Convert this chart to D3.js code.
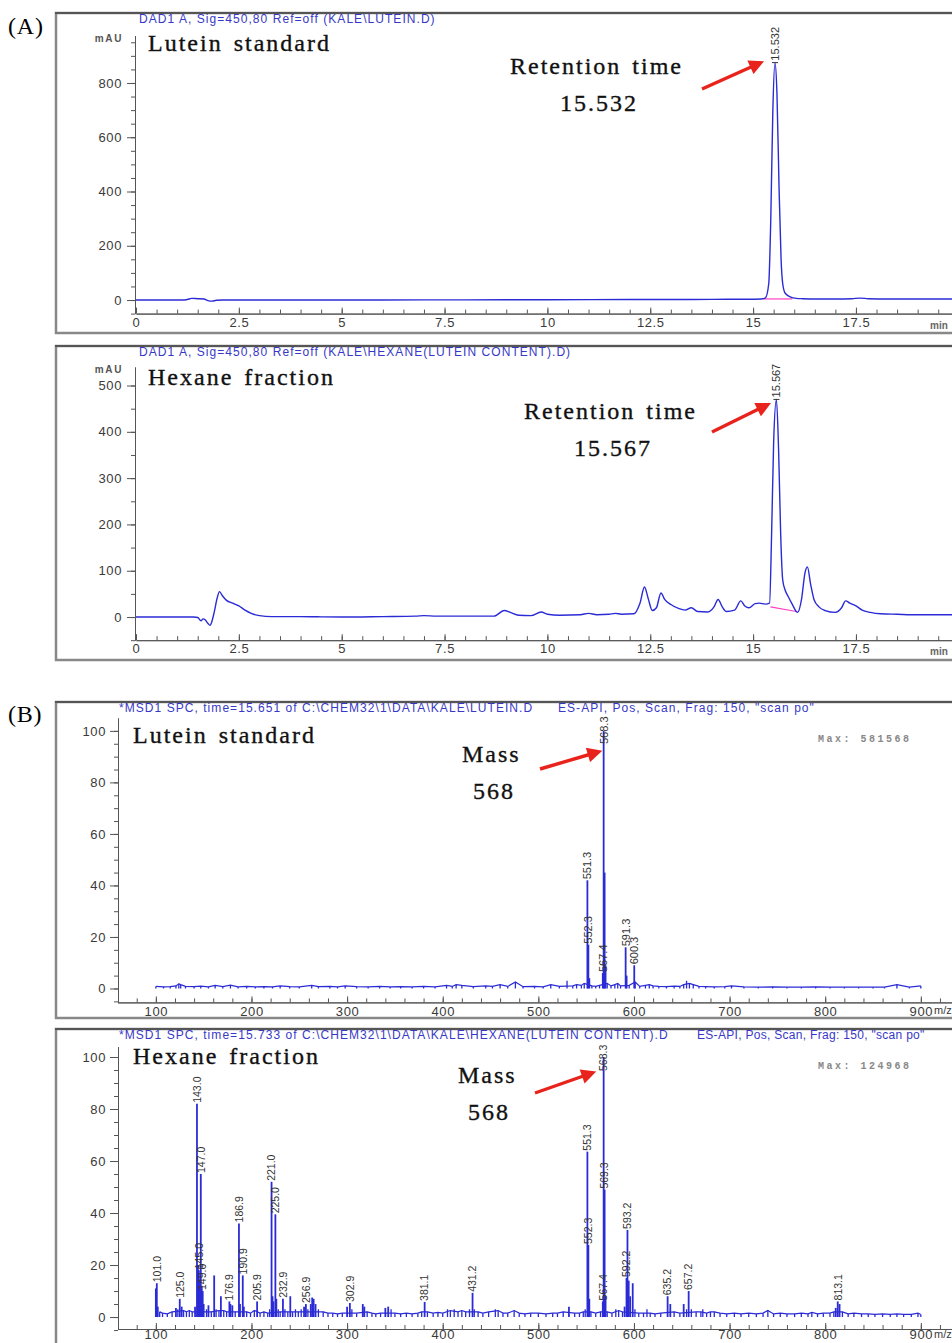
<!DOCTYPE html>
<html>
<head>
<meta charset="utf-8">
<script src="https://cdn.jsdelivr.net/npm/d3@7"></script>
<style>
  body { margin: 0; background: #fff; }
  svg { display: block; font-family: "Liberation Sans", Arial, sans-serif; }
  .tick text { fill: #3a3a3a; font-size: 13px; letter-spacing: 0.6px; }
  .domain, .tick line { stroke: #555; }
</style>
</head>
<body>
<svg id="fig" width="952" height="1343"></svg>
<script>
// ---- data ----
// HPLC traces: [time (min), absorbance (mAU)]
const luteinTrace = [[0,0],[0.6,0],[1.1,0],[1.25,2],[1.35,6],[1.5,5],[1.65,4],[1.75,-2],[1.85,-4],[1.95,-1],[2.1,0],[3,0],[5,0],
  [7,0.5],[9,1],[11,1.5],[13,2],[14,2.5],[14.8,3],[15.2,4],[15.3,8],[15.38,60],[15.43,300],[15.48,700],[15.532,875],
  [15.58,760],[15.63,420],[15.68,150],[15.72,60],[15.78,25],[15.9,12],[16.05,6],[16.2,5],[16.6,4],[17,4],[17.4,5],
  [17.6,7],[17.8,5],[18.3,4],[19,4],[20,4]];
const luteinBase = [[15.25,4],[15.95,4]];

const hexaneTrace = [[0,0],[1.4,0],[1.5,-1],[1.58,-8],[1.63,-4],[1.68,-6],[1.75,-14],[1.8,-18],[1.85,-8],[1.9,10],[1.97,40],
  [2.03,55],[2.1,46],[2.2,36],[2.35,30],[2.5,24],[2.65,15],[2.8,8],[3.0,3],[3.3,1],[3.6,1],[4,1],[4.4,0.5],[5,0],[6,1],
  [6.8,2],[7.0,3],[7.3,2],[8,2],[8.7,2],[8.95,14],[9.1,10],[9.3,4],[9.6,3],[9.85,11],[10.0,6],[10.3,4],[10.8,5],[11.0,8],
  [11.2,5],[11.5,6],[11.65,8],[11.8,6],[12.1,7],[12.25,30],[12.36,65],[12.45,40],[12.55,14],[12.65,20],[12.76,52],
  [12.85,38],[13.0,27],[13.2,18],[13.35,15],[13.5,20],[13.65,12],[13.9,11],[14.05,22],[14.15,38],[14.25,22],[14.35,12],
  [14.55,15],[14.7,35],[14.8,24],[14.9,20],[15.05,29],[15.15,30],[15.3,28],[15.4,30],[15.45,180],[15.5,380],
  [15.567,470],[15.62,360],[15.67,180],[15.72,80],[15.78,58],[15.85,45],[15.95,28],[16.08,10],[16.18,40],[16.26,95],
  [16.32,108],[16.4,70],[16.48,38],[16.6,22],[16.75,14],[17.0,10],[17.15,20],[17.25,35],[17.35,30],[17.5,24],
  [17.65,15],[17.85,10],[18.1,7],[18.5,6],[19,5],[20,5]];
const hexaneBase = [[15.42,22],[16.05,12]];

const luteinRt = 15.532;
const hexaneRt = 15.567;

// mass spectra: [m/z, relative abundance %]
const stdPeaks = [[100,0.8],[108,0.6],[115,0.7],[121,1.0],[124,1.8],[126,1.5],[131,0.8],[140,0.7],[147,0.9],[155,0.6],
  [162,1.2],[170,0.7],[178,1.3],[186,0.6],[195,0.8],[204,0.6],[213,0.7],[222,0.6],[230,1.0],[240,0.7],[250,0.6],
  [263,1.2],[270,0.7],[282,0.8],[290,0.6],[298,1.0],[310,0.7],[322,0.6],[334,0.8],[345,0.6],[356,0.7],[368,0.6],
  [380,0.8],[392,0.6],[404,1.2],[410,0.8],[414,1.5],[420,1.2],[432,0.7],[445,1.0],[452,0.8],[460,1.5],[468,0.8],
  [476,2.5],[484,0.7],[496,0.8],[505,0.6],[513,1.5],[522,0.8],[530,3],[536,1.0],[540,1.5],[545,1.2],[548,2],
  [551.3,42],[552.3,17],[553.3,4],[556,1],[560,0.8],[564,1.2],[567.4,6],[568.3,100],[569.3,45],[570.3,9],[572,2],
  [576,1],[580,1.5],[583,2],[586,1],[591.3,16],[592.3,5],[595,1.2],[600.3,9],[601.3,2.5],[606,0.8],[612,1.2],
  [616,1.5],[620,1.0],[626,0.8],[634,0.7],[642,0.9],[648,0.8],[652,1.5],[655,3],[658,2],[662,1.5],[668,0.8],
  [675,0.7],[684,0.6],[695,0.7],[702,1],[715,0.6],[730,0.5],[745,0.6],[760,0.5],[775,0.5],[790,0.6],[805,0.5],
  [820,0.5],[835,0.5],[850,0.5],[862,0.5],[875,1.5],[888,0.5],[900,1]];
const stdLabels = ["551.3","552.3","567.4","568.3","591.3","600.3"];

const hexPeaks = [[100,11],[101.0,13],[102,4],[104,2],[107,1.5],[112,1.2],[117,2],[121,3.5],[123,3],[125.0,7],[127,4],
  [129,2.5],[132,2],[135,2.5],[138,2],[141,4],[143.0,82],[144,20],[145.0,18],[146,14],[147.0,55],[148,12],[149.0,10],
  [150,5],[153,3],[155,4.5],[158,2],[161,16],[163,3],[166,2.5],[168,8],[171,2.5],[174,2],[176.9,6],[178,5],[180,4.5],
  [183,2],[186.9,36],[188,5],[190.9,16],[192,4],[195,2],[199,1.5],[203,2.5],[205.9,6],[209,1.5],[213,2],[217,1.5],
  [219,3],[221.0,52],[222,8],[223,6],[225.0,39.5],[226,7],[228,3],[230,2],[232.9,7],[235,3],[238,2],[240.6,8],[243,2],
  [246,3],[249,2],[252,3],[255,4],[256.9,5],[259,3],[262,5],[263.5,7.5],[265,7],[267,5],[270,3],[275,2],[280,1.5],
  [285,1.5],[290,1.2],[295,1.5],[300,4],[302.9,5.4],[305,3],[310,1.5],[316.4,5],[318,4],[321,2],[326,1.5],[330,1.2],
  [335,1.5],[340,3.5],[343,4],[346,3],[350,1.5],[356,1.2],[362,1.5],[368,1.2],[374,1.5],[378,2],[381.1,5.8],[384,2],
  [390,1.5],[395,1.8],[400,1.5],[405,3],[408,2.5],[412,3],[416,2],[420,2.5],[424,2],[428,3],[431.2,9.3],[433,3],
  [437,2],[442,1.5],[448,2],[455,3],[458,2.5],[463,1.5],[468,1.5],[474.7,2.5],[480,1.5],[486,1.2],[492,1.5],[500,1.5],
  [508,1.2],[515,1.5],[520,1.5],[526,2],[532,4],[538,1.5],[543,1.5],[547,2],[549,3],[551.3,63.6],[552.3,27.7],
  [553.3,7],[555,2],[560,1.5],[565,2],[567.4,6],[568.3,100],[569.3,49],[570.3,8],[572,2],[577,1.5],[581,3],[584,2.5],
  [588,2],[590.2,4],[592.2,15],[593.2,33.5],[594.5,14],[596,8],[598.7,13],[601,3],[605,1.5],[610,1.5],[613.6,3],
  [617,1.5],[622,1.2],[628,1.5],[635.2,8],[638,5],[642,2],[648,1.5],[652,5],[655,3],[657.2,10],[660,3],[665,2],
  [670,2],[672,3],[676,1.5],[680,2],[684,2],[690,1.5],[697,1.2],[705,1.5],[712,1.2],[720,1.5],[728,1.2],[735,1.5],
  [740,2.5],[746,1.2],[753,1.5],[760,1.2],[768,1.2],[775,1.5],[782,1.2],[786,1.8],[792,1.2],[798,1.5],[805,1.5],
  [809,2],[811,3.5],[813.1,6],[815,5],[818,2],[824,1.2],[830,1.5],[838,1.2],[845,1.2],[852,1],[860,1.2],[868,1],
  [875,1.2],[882,1],[890,1],[897,1.5],[900,1]];
const hexLabels = ["101.0","125.0","143.0","145.0","147.0","149.0","176.9","186.9","190.9","205.9","221.0","225.0",
  "232.9","256.9","302.9","381.1","431.2","551.3","552.3","567.4","568.3","569.3","592.2","593.2","635.2","657.2","813.1"];

// tick labels
const timeTicks = [0, 2.5, 5, 7.5, 10, 12.5, 15, 17.5];
const mauTicksA = [0, 200, 400, 600, 800];
const mauTicksB = [0, 100, 200, 300, 400, 500];
const mzTicks = [100, 200, 300, 400, 500, 600, 700, 800, 900];
const pctTicks = [0, 20, 40, 60, 80, 100];

// ---- drawing ----
const svg = d3.select("#fig");
const blue = "#2b2bd6";
const serif = "'Liberation Serif', 'Times New Roman', serif";

svg.append("defs").append("marker")
  .attr("id", "ah").attr("viewBox", "0 0 10 10").attr("refX", 7).attr("refY", 5)
  .attr("markerWidth", 5).attr("markerHeight", 4.4).attr("markerUnits", "strokeWidth").attr("orient", "auto")
  .append("path").attr("d", "M0,0L10,5L0,10z").attr("fill", "#e8231c");

function frame(top, bottom) {
  svg.append("rect").attr("x", 56).attr("y", top).attr("width", 960).attr("height", bottom - top)
    .attr("fill", "none").attr("stroke", "#888").attr("stroke-width", 2.5);
  svg.append("line").attr("x1", 55).attr("x2", 952).attr("y1", top).attr("y2", top)
    .attr("stroke", "#444").attr("stroke-width", 1.5);
}

function header(x, y, s, ls) {
  svg.append("text").attr("x", x).attr("y", y).attr("fill", "#3838c8")
    .attr("font-size", 12).attr("letter-spacing", ls || 1.05).text(s);
}

function bigText(x, y, s, anchor) {
  svg.append("text").attr("x", x).attr("y", y).attr("text-anchor", anchor || "start")
    .attr("font-family", serif).attr("font-size", 24).attr("letter-spacing", 2).attr("word-spacing", 3)
    .attr("fill", "#111").attr("stroke", "#111").attr("stroke-width", 0.35).text(s);
}

function arrow(x1, y1, x2, y2) {
  svg.append("line").attr("x1", x1).attr("y1", y1).attr("x2", x2).attr("y2", y2)
    .attr("stroke", "#e8231c").attr("stroke-width", 3.4).attr("marker-end", "url(#ah)");
}

function vLabel(x, y, s, size) {
  svg.append("text").attr("transform", `translate(${x + size * 0.36},${y}) rotate(-90)`)
    .attr("font-size", size).attr("fill", "#333").text(s);
}

function chromPanel(o) {
  frame(o.top, o.bottom);
  header(139, o.top + 10, o.title);
  const x = d3.scaleLinear().domain([0, 20]).range([136, 958.8]);
  const y = d3.scaleLinear().domain(o.yDom).range(o.yRange);
  const yb = y(o.yDom[0]);

  svg.append("g").attr("transform", "translate(135,0)")
    .call(d3.axisLeft(y).tickValues(d3.range(-50, o.yDom[1], 50)).tickSize(4).tickFormat("").tickSizeOuter(0));
  svg.append("g").attr("transform", "translate(135,0)")
    .call(d3.axisLeft(y).tickValues(o.yTicks).tickSize(8).tickPadding(5).tickSizeOuter(0));
  svg.append("text").attr("x", 123).attr("y", o.yRange[1] + 6).attr("text-anchor", "end")
    .attr("font-size", 10).attr("font-weight", "bold").attr("letter-spacing", 1.6).attr("fill", "#555").text("mAU");

  svg.append("g").attr("transform", `translate(0,${yb})`)
    .call(d3.axisBottom(x).tickValues(d3.range(0.5, 20, 0.5)).tickSize(-4).tickFormat("").tickSizeOuter(0));
  svg.append("g").attr("transform", `translate(0,${yb})`)
    .call(d3.axisBottom(x).tickValues(timeTicks).tickSize(-6).tickPadding(4).tickFormat(d3.format("")).tickSizeOuter(0));
  svg.append("text").attr("x", 930).attr("y", yb + 15).attr("font-size", 10).attr("font-weight", "bold")
    .attr("fill", "#666").text("min");

  const line = d3.line().x(d => x(d[0])).y(d => y(d[1])).curve(d3.curveMonotoneX);
  svg.append("path").datum(o.base).attr("d", d3.line().x(d => x(d[0])).y(d => y(d[1])))
    .attr("stroke", "#ff40c0").attr("stroke-width", 1.2).attr("fill", "none");
  svg.append("path").datum(o.trace).attr("d", line)
    .attr("stroke", blue).attr("stroke-width", 1.4).attr("fill", "none");

  const apex = o.trace.find(d => d[0] === o.rt);
  svg.append("line").attr("x1", x(o.rt) - 3).attr("x2", x(o.rt) + 3)
    .attr("y1", y(apex[1])).attr("y2", y(apex[1])).attr("stroke", "#333");
  vLabel(x(o.rt), y(apex[1]) - 2, o.rt.toFixed(3), 11);
}

function specPanel(o) {
  frame(o.top, o.bottom);
  header(119, o.top + 10, o.title[0]);
  header(o.title2x, o.top + 10, o.title[1], o.title2ls);
  const x = d3.scaleLinear().domain([60, 935]).range([117.6, 954.3]);
  const y = d3.scaleLinear().domain(o.yDom).range(o.yRange);
  const yb = y(o.yDom[0]);

  svg.append("g").attr("transform", "translate(118,0)")
    .call(d3.axisLeft(y).tickValues(d3.range(-5, o.yDom[1], 5)).tickSize(4).tickFormat("").tickSizeOuter(0));
  svg.append("g").attr("transform", "translate(118,0)")
    .call(d3.axisLeft(y).tickValues(pctTicks).tickSize(8).tickPadding(4).tickSizeOuter(0));

  svg.append("g").attr("transform", `translate(0,${yb})`)
    .call(d3.axisBottom(x).tickValues(d3.range(80, 935, 20)).tickSize(-4).tickFormat("").tickSizeOuter(0));
  const xa = svg.append("g").attr("transform", `translate(0,${yb})`)
    .call(d3.axisBottom(x).tickValues(mzTicks).tickSize(-6).tickPadding(o.xPad).tickSizeOuter(0));
  xa.append("text").attr("x", 934).attr("y", o.xPad).attr("dy", "0.71em").attr("font-size", 11)
    .attr("fill", "#3a3a3a").attr("text-anchor", "start").text("m/z");

  svg.append("text").attr("x", 818).attr("y", o.top + 40).attr("font-family", "'Liberation Mono', monospace")
    .attr("font-size", 10).attr("font-weight", "bold").attr("letter-spacing", 2.5).attr("fill", "#888").text(o.max);

  const low = o.peaks.filter(d => d[1] <= 2.5);
  svg.append("path").datum(low).attr("d", d3.line().x(d => x(d[0])).y(d => y(d[1])))
    .attr("stroke", blue).attr("stroke-width", 1.2).attr("fill", "none");
  svg.append("g").selectAll("line").data(o.peaks).join("line")
    .attr("x1", d => x(d[0])).attr("x2", d => x(d[0]))
    .attr("y1", y(0)).attr("y2", d => y(d[1]))
    .attr("stroke", blue).attr("stroke-width", d => d[1] > 3 ? 1.8 : 1.3);

  o.labels.forEach(s => {
    const p = o.peaks.find(d => d[0] === +s);
    vLabel(x(p[0]), Math.max(y(p[1]) - 1, o.top + 42), s, o.labelSize);
  });
}

// (A)
svg.append("text").attr("x", 8).attr("y", 34).attr("font-family", serif).attr("font-size", 24)
  .attr("letter-spacing", 0.8).text("(A)");
chromPanel({ top: 13, bottom: 333, title: "DAD1 A, Sig=450,80 Ref=off (KALE\\LUTEIN.D)",
  yDom: [-50, 975], yRange: [313.6, 35.5], yTicks: mauTicksA,
  trace: luteinTrace, base: luteinBase, rt: luteinRt });
chromPanel({ top: 346, bottom: 660, title: "DAD1 A, Sig=450,80 Ref=off (KALE\\HEXANE(LUTEIN CONTENT).D)",
  yDom: [-50, 540], yRange: [640.2, 367], yTicks: mauTicksB,
  trace: hexaneTrace, base: hexaneBase, rt: hexaneRt });

bigText(148, 51, "Lutein standard");
bigText(510, 74, "Retention time");
bigText(599, 111, "15.532", "middle");
arrow(702, 89, 760, 63);
bigText(148, 385, "Hexane fraction");
bigText(524, 419, "Retention time");
bigText(613, 456, "15.567", "middle");
arrow(712, 432, 767, 405);

// (B)
svg.append("text").attr("x", 8).attr("y", 722).attr("font-family", serif).attr("font-size", 24)
  .attr("letter-spacing", 0.8).text("(B)");
specPanel({ top: 702, bottom: 1018, title2x: 558,
  title: ["*MSD1 SPC, time=15.651 of C:\\CHEM32\\1\\DATA\\KALE\\LUTEIN.D", "ES-API, Pos, Scan, Frag: 150, \"scan po\""],
  yDom: [-5.4, 105], yRange: [1002.4, 718], peaks: stdPeaks, labels: stdLabels, max: "Max: 581568",
  labelSize: 11, xPad: 4 });
specPanel({ top: 1029, bottom: 1350, title2x: 697, title2ls: 0.3,
  title: ["*MSD1 SPC, time=15.733 of C:\\CHEM32\\1\\DATA\\KALE\\HEXANE(LUTEIN CONTENT).D", "ES-API, Pos, Scan, Frag: 150, \"scan po\""],
  yDom: [-4.6, 104], yRange: [1329, 1046.6], peaks: hexPeaks, labels: hexLabels, max: "Max: 124968",
  labelSize: 10.5, xPad: 1 });

bigText(133, 743, "Lutein standard");
bigText(462, 762, "Mass");
bigText(494, 799, "568", "middle");
arrow(540, 769, 598, 752);
bigText(133, 1064, "Hexane fraction");
bigText(458, 1083, "Mass");
bigText(489, 1120, "568", "middle");
arrow(535, 1093, 592, 1073);
</script>
</body>
</html>
